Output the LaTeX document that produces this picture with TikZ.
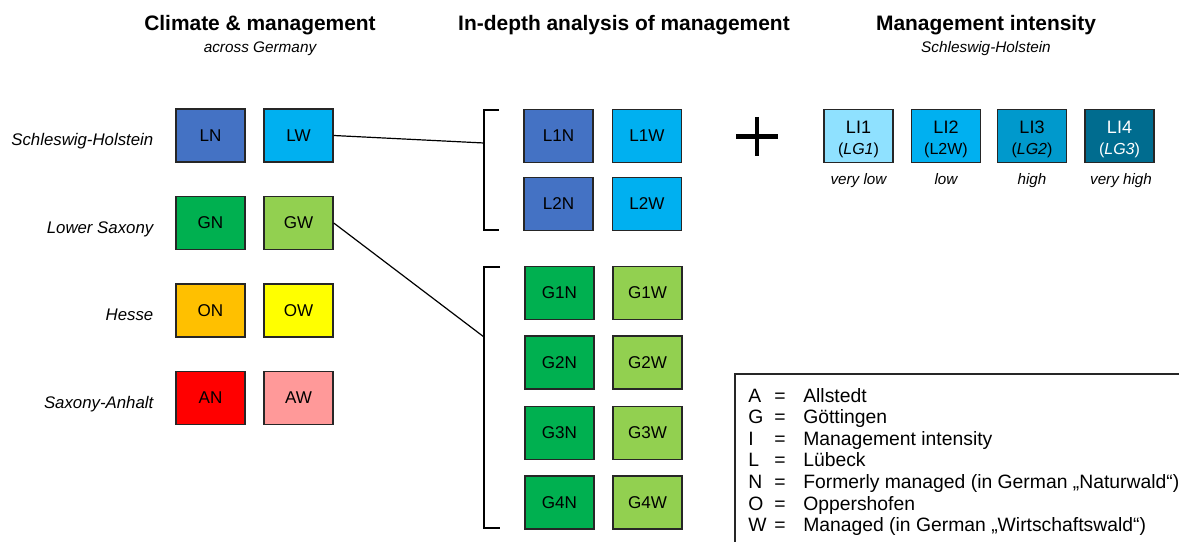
\documentclass[tikz,border=0pt]{standalone}
\usepackage{fontspec}
\setmainfont{Liberation Sans}
\definecolor{cLN}{HTML}{4472C4}
\definecolor{cLW}{HTML}{00B0F0}
\definecolor{cGN}{HTML}{00B050}
\definecolor{cGW}{HTML}{92D050}
\definecolor{cON}{HTML}{FFC000}
\definecolor{cOW}{HTML}{FFFF00}
\definecolor{cAN}{HTML}{FF0000}
\definecolor{cAW}{HTML}{FF9999}
\definecolor{cLI1}{HTML}{8FE1FF}
\definecolor{cLI2}{HTML}{00B0F0}
\definecolor{cLI3}{HTML}{0099CC}
\definecolor{cLI4}{HTML}{006C8F}
\definecolor{edge}{HTML}{262626}
\newcommand{\lisub}[1]{{\fontsize{12}{15}\selectfont #1}}
\begin{document}
\begin{tikzpicture}[x=0.75pt,y=-0.75pt]
\tikzset{
 cell/.style={draw=edge, line width=1.1pt, minimum width=51.75pt, minimum height=39.5pt, inner sep=0pt, font=\fontsize{12.8}{14}\selectfont},
 licell/.style={cell, align=center, font=\fontsize{13.5}{15}\selectfont},
 statelbl/.style={anchor=base east, font=\fontsize{12.6}{15}\selectfont\itshape},
 title/.style={anchor=base, font=\fontsize{15.7}{18}\selectfont\bfseries},
 subtitle/.style={anchor=base, font=\fontsize{11.5}{13}\selectfont\itshape},
 conn/.style={line width=0.9pt, black},
 levellbl/.style={anchor=base, font=\fontsize{11.4}{13}\selectfont\itshape},
 legend/.style={anchor=base west, inner sep=0pt, font=\fontsize{14.5}{16}\selectfont},
}
\useasboundingbox (0,0) rectangle (1179,542);
\clip (0,0) rectangle (1179,542);

% titles
\node[title] (t1) at (260,31) {Climate \& management};
\node[subtitle] (s1) at (260,53) {across Germany};
\node[title] (t2) at (624,31) {In-depth analysis of management};
\node[title] (t3) at (986,31) {Management intensity};
\node[subtitle] (s3) at (986,53) {Schleswig-Holstein};

% states
\node[statelbl] (sh) at (158,145.5) {Schleswig-Holstein};
\node[statelbl] (ls) at (158,233) {Lower Saxony};
\node[statelbl] (he) at (158,320.5) {Hesse};
\node[statelbl] (sa) at (158,408) {Saxony-Anhalt};

% left boxes
\node[cell, fill=cLN] (LN) at (210.5,135.5) {LN};
\node[cell, fill=cLW] (LW) at (298.5,135.5) {LW};
\node[cell, fill=cGN] (GN) at (210.5,223) {GN};
\node[cell, fill=cGW] (GW) at (298.5,223) {GW};
\node[cell, fill=cON] (ON) at (210.5,310.5) {ON};
\node[cell, fill=cOW] (OW) at (298.5,310.5) {OW};
\node[cell, fill=cAN] (AN) at (210.5,398) {AN};
\node[cell, fill=cAW] (AW) at (298.5,398) {AW};

% middle L
\node[cell, fill=cLN] (L1N) at (558.5,136) {L1N};
\node[cell, fill=cLW] (L1W) at (647,136) {L1W};
\node[cell, fill=cLN] (L2N) at (558.5,204) {L2N};
\node[cell, fill=cLW] (L2W) at (647,204) {L2W};
% middle G
\node[cell, fill=cGN] (G1N) at (559.5,293) {G1N};
\node[cell, fill=cGW] (G1W) at (647.5,293) {G1W};
\node[cell, fill=cGN] (G2N) at (559.5,362.5) {G2N};
\node[cell, fill=cGW] (G2W) at (647.5,362.5) {G2W};
\node[cell, fill=cGN] (G3N) at (559.5,433) {G3N};
\node[cell, fill=cGW] (G3W) at (647.5,433) {G3W};
\node[cell, fill=cGN] (G4N) at (559.5,502.5) {G4N};
\node[cell, fill=cGW] (G4W) at (647.5,502.5) {G4W};

% brackets
\draw[conn] (499,110) -- (484,110) -- (484,230) -- (499,230);
\draw[conn] (500,267) -- (484,267) -- (484,528) -- (500,528);
\coordinate (bL) at (484,143);
\coordinate (bG) at (484,337);
\draw[conn] (LW.east) -- (bL);
\draw[conn] (GW.east) -- (bG);

% plus
\draw[line width=3.4pt] (757,117) -- (757,156);
\draw[line width=3.4pt] (736,136.5) -- (778,136.5);

% intensity
\node[licell, fill=cLI1] (LI1) at (858.5,136) {\rule{0pt}{14pt}LI1\\[1pt]\lisub{(\textit{LG1})}};
\node[licell, fill=cLI2] (LI2) at (946,136) {\rule{0pt}{14pt}LI2\\[1pt]\lisub{(L2W)}};
\node[licell, fill=cLI3] (LI3) at (1032,136) {\rule{0pt}{14pt}LI3\\[1pt]\lisub{(\textit{LG2})}};
\node[licell, fill=cLI4, text=white] (LI4) at (1119.5,136) {\rule{0pt}{14pt}LI4\\[1pt]\lisub{(\textit{LG3})}};
\node[levellbl] (v1) at (858.5,184) {very low};
\node[levellbl] (v2) at (946,184) {low};
\node[levellbl] (v3) at (1032,184) {high};
\node[levellbl] (v4) at (1121,184) {very high};

% legend
\draw[line width=0.9pt, draw=edge] (735,374) rectangle (1300,650);
\foreach \k/\l/\t [count=\i from 0] in {A/A/Allstedt, G/G/Göttingen, I/I/Management intensity, L/L/Lübeck, N/N/{Formerly managed (in German „Naturwald“)}, O/O/Oppershofen, W/W/{Managed (in German „Wirtschaftswald“)}}{
  \node[legend] (k\k) at (748,402+21.6*\i) {\l};
  \node[legend, anchor=base] (e\k) at (780,402+21.6*\i) {=};
  \node[legend] (d\k) at (803,402+21.6*\i) {\t};
}
\end{tikzpicture}
\end{document}
